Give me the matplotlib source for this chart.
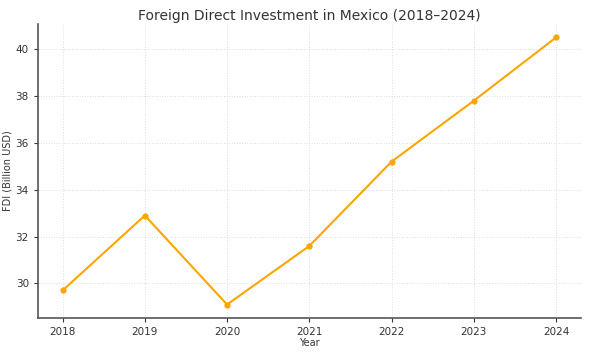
import matplotlib
matplotlib.use("Agg")
import matplotlib.pyplot as plt

# FDI in Mexico, billions USD
years = [2018, 2019, 2020, 2021, 2022, 2023, 2024]
fdi = [29.7, 32.9, 29.1, 31.6, 35.2, 37.8, 40.5]

fig = plt.figure(figsize=(5.92, 3.54), dpi=100)
ax = fig.add_axes([0.064, 0.102, 0.917, 0.830])

ax.plot(years, fdi, color='orange', marker='o', markersize=3.5, linewidth=1.5)

ax.set_title("Foreign Direct Investment in Mexico (2018\u20132024)", fontsize=10, color='#333333', pad=3)
ax.set_xlabel('Year', fontsize=7, color='#333333', labelpad=1)
ax.set_ylabel('FDI (Billion USD)', fontsize=7, color='#333333')
ax.yaxis.set_label_coords(-0.046, 0.5)
ax.set_xticks(years)
ax.set_yticks([30, 32, 34, 36, 38, 40])
ax.tick_params(labelsize=7.5, colors='#333333', length=3)
ax.grid(True, linestyle=':', color='#dddddd', linewidth=0.7)

for side in ['top', 'right']:
    ax.spines[side].set_visible(False)
for side in ['left', 'bottom']:
    ax.spines[side].set_color('#555555')
    ax.spines[side].set_linewidth(1.2)

fig.savefig('out.png', dpi=100)
